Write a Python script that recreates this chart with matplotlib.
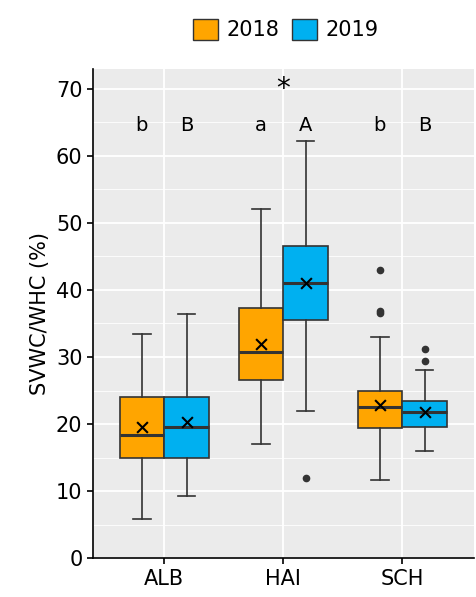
import matplotlib.pyplot as plt
from matplotlib.patches import Patch

sites = ['ALB', 'HAI', 'SCH']
years = ['2018', '2019']
colors = ['#FFA500', '#00B0F0']
# stats per site per year: low, q1, median, q3, high, mean, outliers
stats_2018 = [(5.8, 15.0, 18.4, 24.0, 33.5, 19.5, []),
              (17.0, 26.5, 30.7, 37.3, 52.0, 32.0, []),
              (11.7, 19.4, 22.5, 25.0, 33.0, 22.8, [36.5, 36.8, 43.0])]
stats_2019 = [(9.3, 15.0, 19.6, 24.0, 36.4, 20.3, []),
              (22.0, 35.5, 41.0, 46.5, 62.2, 41.0, [12.0]),
              (16.0, 19.6, 21.8, 23.4, 28.1, 21.8, [29.4, 31.2])]
letters_2018 = ['b', 'a', 'b']
letters_2019 = ['B', 'A', 'B']

fig, ax = plt.subplots(figsize=(4.76, 5.97), dpi=100)
fig.subplots_adjust(left=0.195, right=0.995, top=0.885, bottom=0.065)
ax.set_facecolor('#EBEBEB')
ax.set_yticks(range(5, 75, 10), minor=True)
ax.set_xticks([1.5, 2.5], minor=True)
ax.grid(True, which='major', color='white', linewidth=1.3)
ax.grid(True, which='minor', axis='y', color='white', linewidth=0.6)
ax.set_axisbelow(True)
for s in ax.spines.values():
    s.set_visible(False)
for s in ['left', 'bottom']:
    ax.spines[s].set_visible(True)
    ax.spines[s].set_color('black')
    ax.spines[s].set_linewidth(1.2)

w = 0.375
for k, (st, col, off) in enumerate([(stats_2018, colors[0], -w / 2), (stats_2019, colors[1], w / 2)]):
    bx = []
    for lo, q1, med, q3, hi, mn, fl in st:
        bx.append(dict(whislo=lo, q1=q1, med=med, q3=q3, whishi=hi, fliers=fl))
    pos = [i + 1 + off for i in range(3)]
    ax.bxp(bx, positions=pos, widths=w, capwidths=w * 0.4, patch_artist=True, showfliers=True,
           boxprops=dict(facecolor=col, edgecolor='#333333', linewidth=1.2),
           medianprops=dict(color='#333333', linewidth=2.2),
           whiskerprops=dict(color='#333333', linewidth=1.2),
           capprops=dict(color='#333333', linewidth=1.2),
           flierprops=dict(marker='o', markerfacecolor='#333333', markeredgecolor='#333333', markersize=4.5))
    ax.scatter(pos, [s[5] for s in st], marker='x', color='black', s=60, linewidths=1.5, zorder=5)

for i in range(3):
    ax.text(i + 1 - w / 2, 64.5, letters_2018[i], ha='center', va='center', fontsize=14)
    ax.text(i + 1 + w / 2, 64.5, letters_2019[i], ha='center', va='center', fontsize=14)
ax.text(2, 70, '*', ha='center', va='center', fontsize=20)

ax.set_xlim(0.4, 3.6)
ax.set_ylim(0, 73)
ax.set_xticks([1, 2, 3])
ax.set_xticklabels(sites, fontsize=15)
ax.set_yticks(range(0, 71, 10))
ax.tick_params(which='major', labelsize=15, colors='black', width=1.2, length=4)
ax.tick_params(which='minor', length=0)
ax.set_ylabel('SVWC/WHC (%)', fontsize=15)

handles = [Patch(facecolor=c, edgecolor='#333333', label=y) for c, y in zip(colors, years)]
fig.legend(handles=handles, loc='upper center', bbox_to_anchor=(0.6, 1.0), ncol=2, frameon=False,
           fontsize=15, handlelength=1.2, handleheight=1.2, columnspacing=0.6, handletextpad=0.4)

fig.savefig('out.png')
